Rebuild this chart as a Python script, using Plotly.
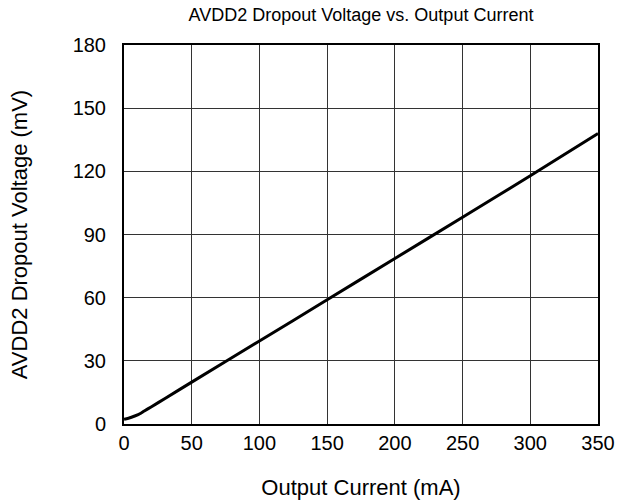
import plotly.graph_objects as go

# Output current (mA) and AVDD2 dropout voltage (mV)
current_ma = [0, 5, 10, 15, 20, 30, 50, 100, 150, 200, 250, 300, 350]
dropout_mv = [2.2, 3.1, 4.3, 6.2, 8.1, 12.0, 19.9, 39.4, 59.0, 78.6, 98.2, 117.9, 138.0]

x_ticks = [0, 50, 100, 150, 200, 250, 300, 350]
y_ticks = [0, 30, 60, 90, 120, 150, 180]

font_family = "Arial, Liberation Sans, sans-serif"

fig = go.Figure()
fig.add_trace(go.Scatter(
    x=current_ma, y=dropout_mv, mode="lines",
    line=dict(color="black", width=3, shape="spline", smoothing=0.6),
    showlegend=False,
))

axis_common = dict(
    showline=True, linecolor="black", linewidth=2, mirror=True,
    showgrid=True, gridcolor="#333333", gridwidth=1,
    zeroline=False, automargin=False,
    tickcolor="rgba(0,0,0,0)",
    tickfont=dict(family=font_family, size=20, color="black"),
)

fig.update_layout(
    width=626, height=502,
    margin=dict(l=124, r=28, t=45, b=78),
    paper_bgcolor="white", plot_bgcolor="white",
    font=dict(family=font_family, size=18, color="black"),
    title=dict(
        text="AVDD2 Dropout Voltage vs. Output Current",
        x=(124 + 598) / 2 / 626, xanchor="center",
        y=1 - 15 / 502, yanchor="middle", yref="container",
        font=dict(family=font_family, size=18, color="black"),
    ),
    xaxis=dict(
        range=[0, 350], tickvals=x_ticks, ticks="",
        title=dict(text="Output Current (mA)", standoff=27,
                   font=dict(family=font_family, size=22)),
        **axis_common,
    ),
    yaxis=dict(
        range=[0, 180], tickvals=y_ticks, ticks="outside", ticklen=12,
        title=dict(text="AVDD2 Dropout Voltage (mV)", standoff=39,
                   font=dict(family=font_family, size=22)),
        **axis_common,
    ),
)

fig.write_html("out.html")
